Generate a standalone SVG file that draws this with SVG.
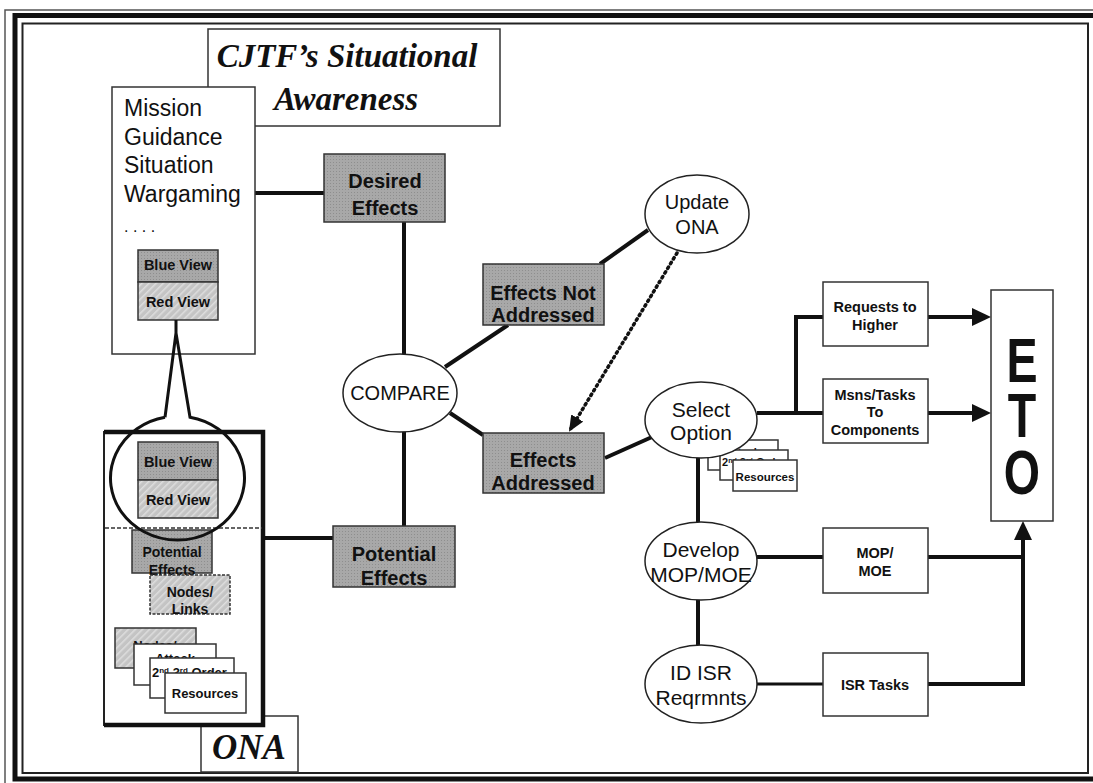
<svg xmlns="http://www.w3.org/2000/svg" width="1093" height="783" viewBox="0 0 1093 783">
<style>
text{font-family:"Liberation Sans",Arial,sans-serif;fill:#111}
.b{font-weight:bold}
.ser{font-family:"Liberation Serif","Times New Roman",serif;font-style:italic;font-weight:bold}
.box{fill:#fff;stroke:#333;stroke-width:1.5}
.gray{fill:url(#stip);stroke:#333;stroke-width:1.5}
.hat{fill:url(#hatch);stroke:#333;stroke-width:1.5}
.ell{fill:#fff;stroke:#222;stroke-width:1.5}
.con{fill:none;stroke:#111;stroke-width:4}
.thin{fill:none;stroke:#111;stroke-width:3}
.m{text-anchor:middle}
</style>
<defs>
<pattern id="stip" width="3" height="3" patternUnits="userSpaceOnUse"><rect width="3" height="3" fill="#a8a8a8"/><rect width="1" height="1" fill="#8e8e8e"/></pattern>
<pattern id="hatch" width="5" height="5" patternUnits="userSpaceOnUse" patternTransform="rotate(45)"><rect width="5" height="5" fill="#c4c4c4"/><rect width="1.5" height="5" fill="#dedede"/></pattern>
<marker id="ah" viewBox="0 0 19 18" refX="13" refY="9" markerWidth="19" markerHeight="18" markerUnits="userSpaceOnUse" orient="auto"><path d="M0,0 L19,9 L0,18 z" fill="#111"/></marker>
<marker id="ahs" viewBox="0 0 16 14" refX="14" refY="7" markerWidth="16" markerHeight="14" markerUnits="userSpaceOnUse" orient="auto"><path d="M0,0 L16,7 L0,14 z" fill="#111"/></marker>
</defs>
<rect width="1093" height="783" fill="#fff"/>
<g id="frame" fill="none">
<rect x="5" y="10" width="1100" height="780" stroke="#555" stroke-width="1.5"/>
<rect x="15" y="15.5" width="1090" height="763.5" stroke="#111" stroke-width="5"/>
<rect x="22.5" y="23.5" width="1065.5" height="749.5" stroke="#222" stroke-width="2"/>
</g>
<g id="connectors">
<path class="con" d="M255 193 H324"/>
<path class="con" d="M404 222 V355"/>
<path class="con" d="M404 432 V526"/>
<path class="con" d="M263 538 H333"/>
<path class="con" d="M445 367 L508 325"/>
<path class="con" d="M450 413 L483 435"/>
<path class="con" d="M600 264 L648 230"/>
<path class="con" d="M605 458 L652 437"/>
<path d="M677 253 L570 430" fill="none" stroke="#111" stroke-width="3.5" stroke-dasharray="1.5 4" stroke-linecap="round" marker-end="url(#ahs)"/>
<path class="con" d="M698 458 V522"/>
<path class="con" d="M698 600 V645"/>
<path class="con" d="M757 413 H823"/>
<path class="con" d="M796 413 V317 H823"/>
<path class="con" d="M928 317 H985" marker-end="url(#ah)"/>
<path class="con" d="M928 413 H985" marker-end="url(#ah)"/>
<path class="con" d="M757 557 H823"/>
<path class="con" d="M928 557 H1023"/>
<path class="thin" d="M757 684 H823"/>
<path class="con" d="M928 684 H1023 V527" marker-end="url(#ah)"/>
</g>
<g id="cjtf-title">
<rect class="box" x="208" y="29" width="292" height="97"/>
<text class="ser m" x="347" y="67" font-size="33">CJTF’s Situational</text>
<text class="ser m" x="346" y="110" font-size="33">Awareness</text>
</g>
<g id="mission">
<rect class="box" x="112" y="87" width="143" height="267"/>
<text x="124" y="116" font-size="23">Mission</text>
<text x="124" y="145" font-size="23">Guidance</text>
<text x="124" y="173" font-size="23">Situation</text>
<text x="124" y="202" font-size="23">Wargaming</text>
<text x="124" y="232" font-size="16">. . . .</text>
<rect class="gray" x="138" y="250" width="80" height="32"/>
<text class="b m" x="178" y="270" font-size="14.5">Blue View</text>
<rect class="hat" x="138" y="282" width="80" height="38"/>
<text class="b m" x="178" y="307" font-size="14.5">Red View</text>
</g>
<g id="desired-effects">
<rect class="gray" x="324" y="154" width="121" height="68"/>
<text class="b m" x="385" y="188" font-size="20">Desired</text>
<text class="b m" x="385" y="215" font-size="20">Effects</text>
</g>
<g id="compare">
<ellipse class="ell" cx="400" cy="393" rx="57" ry="39"/>
<text class="m" x="400" y="400" font-size="20">COMPARE</text>
</g>
<g id="effects-not-addressed">
<rect class="gray" x="483" y="264" width="121" height="61"/>
<text class="b m" x="543" y="300" font-size="20">Effects Not</text>
<text class="b m" x="543" y="322" font-size="20">Addressed</text>
</g>
<g id="update-ona">
<ellipse class="ell" cx="697" cy="214" rx="52" ry="39"/>
<text class="m" x="697" y="209" font-size="20">Update</text>
<text class="m" x="697" y="234" font-size="20">ONA</text>
</g>
<g id="effects-addressed">
<rect class="gray" x="483" y="433" width="121" height="60"/>
<text class="b m" x="543" y="467" font-size="20">Effects</text>
<text class="b m" x="543" y="490" font-size="20">Addressed</text>
</g>
<g id="potential-effects">
<rect class="gray" x="333" y="526" width="122" height="61"/>
<text class="b m" x="394" y="561" font-size="20">Potential</text>
<text class="b m" x="394" y="585" font-size="20">Effects</text>
</g>
<g id="ona-label">
<rect class="box" x="201" y="716" width="97" height="56"/>
<text class="ser m" x="249" y="759" font-size="35" font-weight="normal">ONA</text>
</g>
<g id="ona">
<rect x="104" y="432" width="159" height="293" fill="#fff" stroke="#222" stroke-width="2"/>
<path d="M104 432 H263 V725 H104" fill="none" stroke="#111" stroke-width="4.5"/>
<rect class="gray" x="138" y="442" width="80" height="38"/>
<text class="b m" x="178" y="467" font-size="14.5">Blue View</text>
<rect class="hat" x="138" y="480" width="80" height="38"/>
<text class="b m" x="178" y="505" font-size="14.5">Red View</text>
<path d="M105 528 H262" stroke="#333" stroke-width="1.5" stroke-dasharray="4 2" fill="none"/>
<rect class="gray" x="132" y="530" width="80" height="43"/>
<text class="b m" x="172" y="557" font-size="14">Potential</text>
<text class="b m" x="172" y="575" font-size="14">Effects</text>
<rect x="150" y="575" width="80" height="39" fill="url(#hatch)" stroke="#333" stroke-width="1.5" stroke-dasharray="3 1.5"/>
<text class="b m" x="190" y="597" font-size="14">Nodes/</text>
<text class="b m" x="190" y="614" font-size="14">Links</text>
<rect class="hat" x="115" y="628" width="81" height="40"/>
<text class="b m" x="155" y="650" font-size="13">Nodes/</text>
<rect class="box" x="134" y="644" width="82" height="41"/>
<text class="b m" x="175" y="663" font-size="13">Attack</text>
<rect class="box" x="150" y="658" width="84" height="40"/>
<text class="b" x="152" y="677" font-size="13">2<tspan font-size="8" dy="-4">nd</tspan><tspan dy="4"> 3</tspan><tspan font-size="8" dy="-4">rd</tspan><tspan dy="4"> Order</tspan></text>
<rect class="box" x="165" y="673" width="81" height="40"/>
<text class="b m" x="205" y="698" font-size="13">Resources</text>
<path d="M176 320 V333 M165 417.2 L176 333 L190 417.2 A67 62 0 1 1 165 417.2" fill="none" stroke="#111" stroke-width="3"/>
</g>
<g id="option-stack">
<rect class="box" x="708" y="440" width="70" height="30"/>
<text class="b m" x="743" y="456" font-size="11">Attack</text>
<rect class="box" x="720" y="450" width="68" height="30"/>
<text class="b" x="722" y="466" font-size="11">2<tspan font-size="7" dy="-3">nd</tspan><tspan dy="3"> 3</tspan><tspan font-size="7" dy="-3">rd</tspan><tspan dy="3"> Order</tspan></text>
<rect class="box" x="733" y="460" width="64" height="31"/>
<text class="b m" x="765" y="481" font-size="11.5">Resources</text>
</g>
<g id="select-option">
<ellipse class="ell" cx="701" cy="420" rx="56" ry="38"/>
<text class="m" x="701" y="417" font-size="21">Select</text>
<text class="m" x="701" y="440" font-size="21">Option</text>
</g>
<g id="develop">
<ellipse class="ell" cx="701" cy="561" rx="56" ry="39"/>
<text class="m" x="701" y="557" font-size="21">Develop</text>
<text class="m" x="701" y="582" font-size="21">MOP/MOE</text>
</g>
<g id="id-isr">
<ellipse class="ell" cx="701" cy="684" rx="56" ry="39"/>
<text class="m" x="701" y="680" font-size="21">ID ISR</text>
<text class="m" x="701" y="705" font-size="21">Reqrmnts</text>
</g>
<g id="requests">
<rect class="box" x="823" y="282" width="105" height="64"/>
<text class="b m" x="875" y="312" font-size="14.5">Requests to</text>
<text class="b m" x="875" y="330" font-size="14.5">Higher</text>
</g>
<g id="msns">
<rect class="box" x="823" y="379" width="105" height="64"/>
<text class="b m" x="875" y="400" font-size="14.5">Msns/Tasks</text>
<text class="b m" x="875" y="417" font-size="14.5">To</text>
<text class="b m" x="875" y="435" font-size="14.5">Components</text>
</g>
<g id="mop">
<rect class="box" x="823" y="528" width="105" height="65"/>
<text class="b m" x="875" y="558" font-size="14.5">MOP/</text>
<text class="b m" x="875" y="576" font-size="14.5">MOE</text>
</g>
<g id="isr-tasks">
<rect class="box" x="823" y="653" width="105" height="63"/>
<text class="b m" x="875" y="690" font-size="14.5">ISR Tasks</text>
</g>
<g id="eto">
<rect class="box" x="991" y="290" width="62" height="231"/>
<text class="b m" font-size="63" transform="translate(1022 0) scale(0.74 1)"><tspan x="0" y="382">E</tspan><tspan x="0" y="437">T</tspan><tspan x="0" y="494">O</tspan></text>
</g>
</svg>
